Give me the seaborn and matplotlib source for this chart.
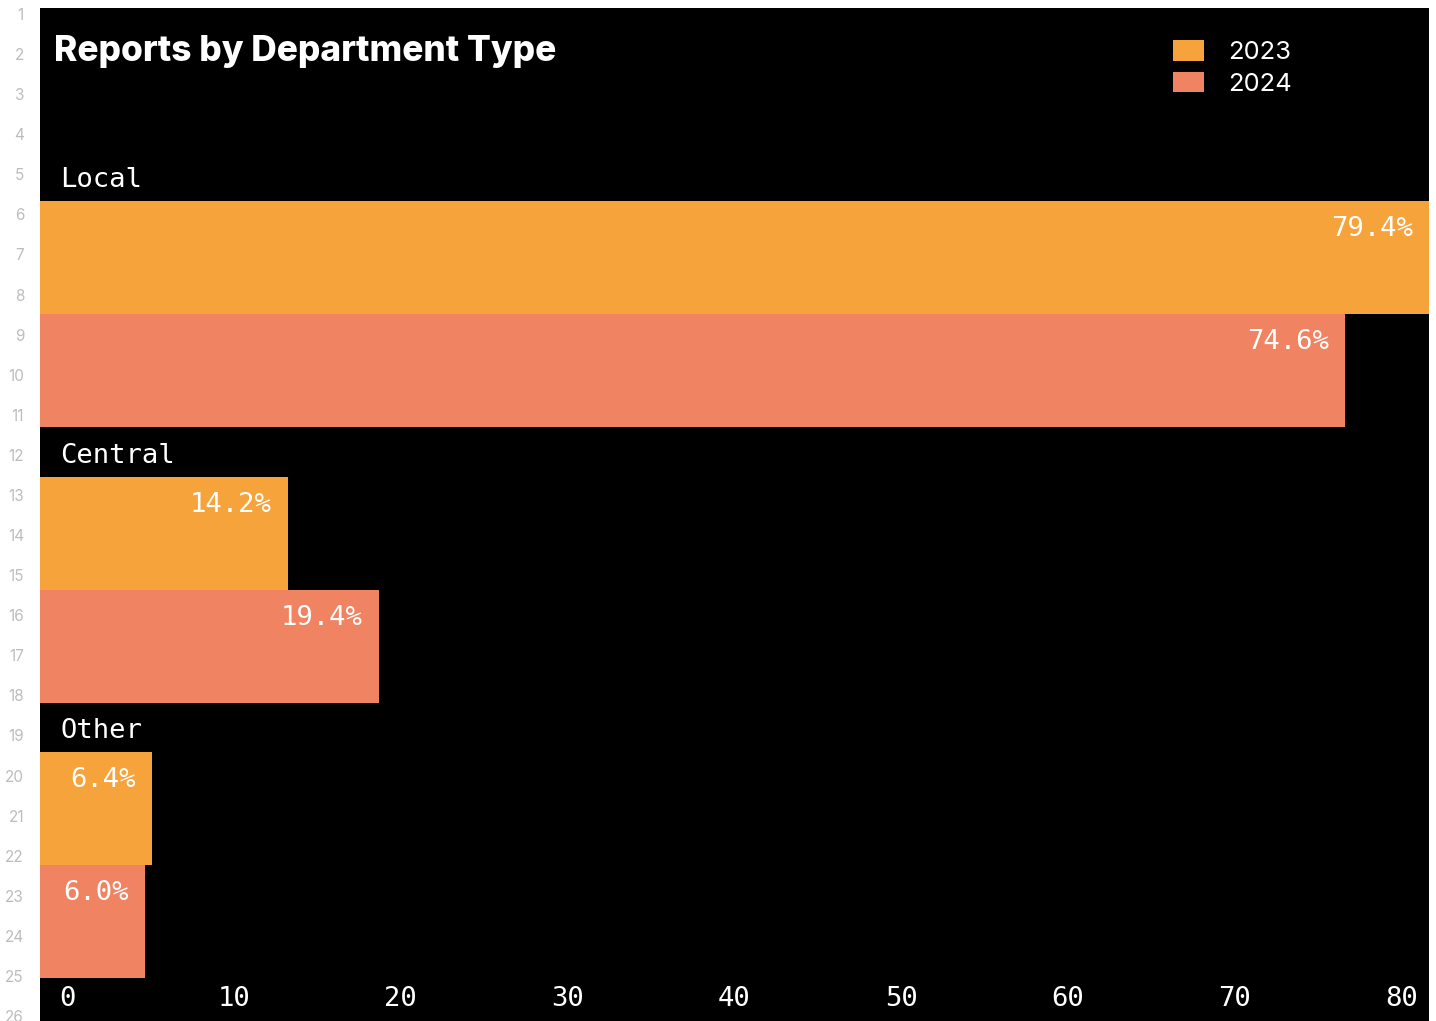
import numpy as np
import pandas as pd
import matplotlib
matplotlib.use("Agg")
import matplotlib.pyplot as plt
from matplotlib.patches import Patch
import seaborn as sns

# --- data ---------------------------------------------------------------
departments = ["Local", "Central", "Other"]
years = ["2023", "2024"]
share_2023 = [79.4, 14.2, 6.4]
share_2024 = [74.6, 19.4, 6.0]
tick_values = [0, 10, 20, 30, 40, 50, 60, 70, 80]
tick_labels = ["0", "10", "20", "30", "40", "50", "60", "70", "80"]
title = "Reports by Department Type"

colors = ["#F6A33B", "#EF8362"]

df = pd.DataFrame({
    "department": departments * 2,
    "year": [years[0]] * len(departments) + [years[1]] * len(departments),
    "share": share_2023 + share_2024,
})

# --- figure ---------------------------------------------------------------
W, H = 1436, 1021
DPI = 100
sns.set_theme(style="white")
plt.rcParams["font.family"] = ["DejaVu Sans"]

fig = plt.figure(figsize=(W / DPI, H / DPI), dpi=DPI, facecolor="white")
ax_left, ax_right, ax_top, ax_bottom = 39.5, 1429, 8, 1021
ax = fig.add_axes([ax_left / W, 1 - ax_bottom / H,
                   (ax_right - ax_left) / W, (ax_bottom - ax_top) / H])
ax.set_facecolor("black")

sns.barplot(data=df, y="department", x="share", hue="year", orient="h",
            order=departments, hue_order=years, palette=colors,
            width=0.82, saturation=1, linewidth=0, legend=False, ax=ax)

ax.set_xlim(0, max(share_2023 + share_2024))
ax.set_ylim(2.566, -1.111)
ax.set_xlabel("")
ax.set_ylabel("")
ax.set_xticks([])
ax.set_yticks([])
for s in ax.spines.values():
    s.set_visible(False)

mono = "DejaVu Sans Mono"
mono_size = 19.6

# value labels inside the bar ends
for container in ax.containers:
    for rect in container:
        w = rect.get_width()
        ax.annotate(f"{w:.1f}%", xy=(w, rect.get_y()),
                    xytext=(-16, -28), textcoords="offset pixels",
                    ha="right", va="center", color="white",
                    fontsize=mono_size, family=mono)

# department names above each group
for i, name in enumerate(departments):
    ax.annotate(name, xy=(0, i - 0.41), xytext=(21, 21),
                textcoords="offset pixels", ha="left", va="center",
                color="white", fontsize=mono_size, family=mono)

# axis scale labels along the bottom, inside the dark panel
inset = 0.0198
span = 1 - 2 * inset
for v, lab in zip(tick_values, tick_labels):
    ax.text(inset + span * v / tick_values[-1], 22 / (ax_bottom - ax_top), lab,
            transform=ax.transAxes, ha="center", va="center",
            color="white", fontsize=mono_size, family=mono)

# title
fig.text(54 / W, 1 - 51 / H, title, ha="left", va="center",
         color="white", fontsize=25.4, fontweight="heavy", family=["Inter", "DejaVu Sans"])

# legend
handles = [Patch(facecolor=c, edgecolor="none") for c in colors]
leg = ax.legend(handles, years, loc="upper left",
                bbox_to_anchor=(1173 / W, 1 - 40 / H), bbox_transform=fig.transFigure,
                frameon=False, handlelength=1.2, handleheight=0.86,
                handletextpad=0.95, labelspacing=0.3, borderpad=0, borderaxespad=0,
                prop={"family": ["Inter", "DejaVu Sans"], "size": 18.4})
for t in leg.get_texts():
    t.set_color("white")

# line numbers in the left margin
for n in range(1, 27):
    fig.text(24 / W, 1 - (15.5 + 40.08 * (n - 1)) / H, str(n), ha="right", va="center",
             color="#BDBDBD", fontsize=11, family=["Inter", "DejaVu Sans"])

fig.savefig("out.png", dpi=DPI, facecolor="white")
